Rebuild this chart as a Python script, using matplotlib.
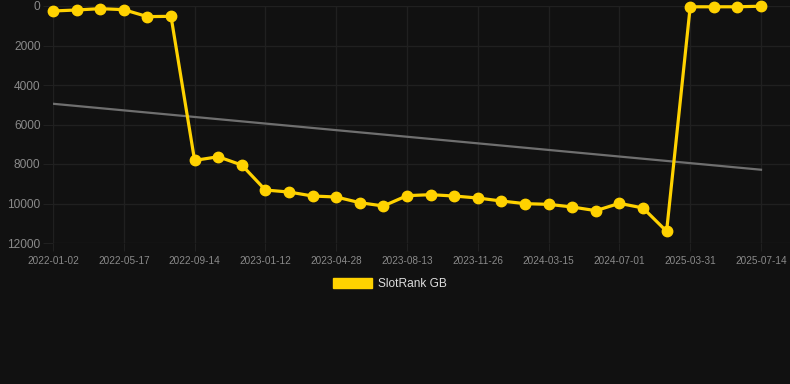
import matplotlib
matplotlib.use("Agg")
import matplotlib.pyplot as plt
from matplotlib.patches import Patch

plt.rcParams['font.family'] = ['Liberation Sans', 'DejaVu Sans']

# category dates (only every 3rd is labelled on the axis)
dates = ['2022-01-02', '2022-02-16', '2022-04-02', '2022-05-17', '2022-06-26',
         '2022-08-05', '2022-09-14', '2022-10-24', '2022-12-03', '2023-01-12',
         '2023-02-21', '2023-03-20', '2023-04-28', '2023-06-06', '2023-07-05',
         '2023-08-13', '2023-09-19', '2023-10-23', '2023-11-26', '2024-01-02',
         '2024-02-07', '2024-03-15', '2024-04-20', '2024-05-26', '2024-07-01',
         '2024-09-25', '2024-12-22', '2025-03-31', '2025-04-30', '2025-06-10',
         '2025-07-14']
rank = [253, 202, 135, 185, 539, 522, 7818, 7633, 8054, 9318,
        9419, 9621, 9671, 9958, 10126, 9604, 9553, 9621, 9722, 9874,
        10008, 10042, 10177, 10362, 9992, 10227, 11407, 40, 40, 40,
        10]
trend = [4950, 8290]  # trend line at first and last date

bg = '#111111'
grid_c = '#202020'
gold = '#FFD200'

fig = plt.figure(figsize=(7.9, 3.84), dpi=100, facecolor=bg)
ax = fig.add_axes([53/790, (384-243)/384, (790-53)/790, (243-6)/384])
ax.set_facecolor(bg)

x = list(range(len(dates)))
ax.plot([x[0], x[-1]], trend, color='#6f6f6f', lw=1.6, zorder=2)
ax.plot(x, rank, color=gold, lw=2.3, marker='o', ms=7.5, zorder=3, clip_on=False)

ax.set_ylim(12000, 0)
ax.set_yticks(range(0, 12001, 2000))
ax.set_xlim(0, 30 + 29/23.6)
ax.set_xticks(x[::3])
ax.set_xticklabels(dates[::3])

ax.grid(True, color=grid_c, lw=1)
for s in ax.spines.values():
    s.set_visible(False)
ax.tick_params(axis='y', colors=grid_c, length=7, labelcolor='#8a8a8a', labelsize=8.6, pad=2)
ax.tick_params(axis='x', colors=grid_c, length=6, labelcolor='#8a8a8a', labelsize=7.2, pad=3)

leg = fig.legend(handles=[Patch(facecolor=gold, edgecolor=gold)], labels=['SlotRank GB'],
                 loc='center', bbox_to_anchor=(390/790, 1 - 284/384), frameon=False,
                 handlelength=3.3, handleheight=1.0, handletextpad=0.5, fontsize=8.6)
for t in leg.get_texts():
    t.set_color('#dddddd')

fig.savefig('out.png', dpi=100, facecolor=bg)
